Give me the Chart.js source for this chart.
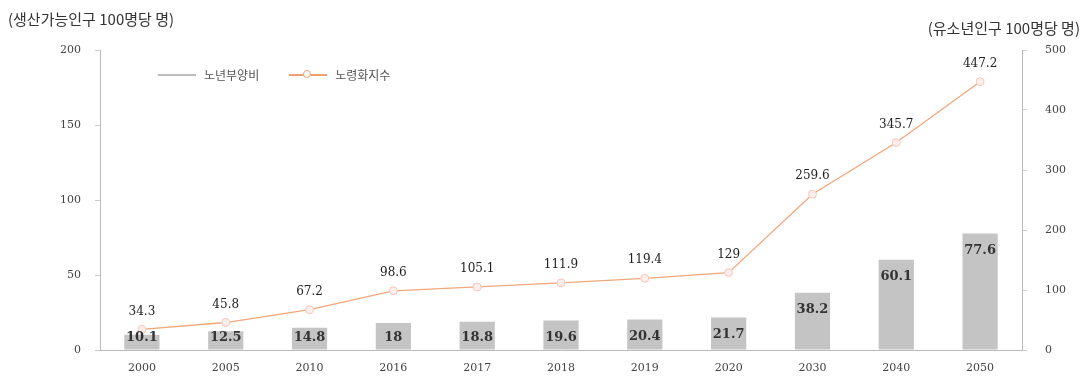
<!DOCTYPE html>
<html>
<head>
<meta charset="utf-8">
<script src="https://cdn.jsdelivr.net/npm/chart.js@4"></script>
<style>
  html, body { margin: 0; padding: 0; background: #fff; }
  #wrap { position: relative; width: 1088px; height: 378px; }
  .ttl { position: absolute; font-family: "Noto Sans CJK KR", sans-serif; font-size: 15px; color: #333; white-space: nowrap; }
  #legend { position: absolute; left: 158px; top: 66px; font-family: "Noto Sans CJK KR", sans-serif; font-size: 12px; color: #555; display: flex; align-items: center; }
  .lg { display: flex; align-items: center; margin-right: 30px; }
  .sw { position: relative; width: 38px; height: 14px; margin-right: 8px; }
  .sw .ln { position: absolute; left: 0; right: 0; top: 6px; height: 2px; }
  .sw .dot { position: absolute; left: 14px; top: 2px; width: 8px; height: 8px; border-radius: 50%; background: #fff; border: 1.5px solid #f0a070; box-sizing: border-box; }
</style>
</head>
<body>
<div id="wrap">
  <canvas id="chart" width="1088" height="378"></canvas>
  <div class="ttl" style="left:8px; top:8px;">(생산가능인구 100명당 명)</div>
  <div class="ttl" style="right:8px; top:17px;">(유소년인구 100명당 명)</div>
  <div id="legend">
    <div class="lg"><div class="sw"><div class="ln" style="background:#bdbdbd"></div></div><span>노년부양비</span></div>
    <div class="lg"><div class="sw"><div class="ln" style="background:#f0a070"></div><div class="dot"></div></div><span>노령화지수</span></div>
  </div>
</div>
<script>
const years = ['2000', '2005', '2010', '2016', '2017', '2018', '2019', '2020', '2030', '2040', '2050'];
const dependencyRatio = [10.1, 12.5, 14.8, 18, 18.8, 19.6, 20.4, 21.7, 38.2, 60.1, 77.6];
const agingIndex = [34.3, 45.8, 67.2, 98.6, 105.1, 111.9, 119.4, 129, 259.6, 345.7, 447.2];
const leftTicks = [0, 50, 100, 150, 200];
const rightTicks = [0, 100, 200, 300, 400, 500];

const tickFont = { family: 'DejaVu Serif', size: 11 };

// value labels over bars and line points
const valueLabels = {
  id: 'valueLabels',
  afterDatasetsDraw(chart) {
    const ctx = chart.ctx;
    const base = chart.scales.y.getPixelForValue(0);
    ctx.save();
    ctx.textAlign = 'center';
    ctx.textBaseline = 'middle';
    chart.getDatasetMeta(0).data.forEach((bar, i) => {
      ctx.font = 'bold 13px "DejaVu Serif"';
      ctx.fillStyle = '#333';
      const y = Math.min(bar.y + 17, base - 12);
      ctx.fillText(String(dependencyRatio[i]), bar.x, y);
    });
    chart.getDatasetMeta(1).data.forEach((pt, i) => {
      ctx.font = '12px "DejaVu Serif"';
      ctx.fillStyle = '#222';
      ctx.fillText(String(agingIndex[i]), pt.x, pt.y - 18);
    });
    ctx.restore();
  }
};

new Chart(document.getElementById('chart'), {
  data: {
    labels: years,
    datasets: [
      {
        type: 'bar', label: '노년부양비', data: dependencyRatio, yAxisID: 'y',
        backgroundColor: '#c4c4c4', barPercentage: 0.42, categoryPercentage: 1, order: 2
      },
      {
        type: 'line', label: '노령화지수', data: agingIndex, yAxisID: 'y1',
        borderColor: '#f2a77a', borderWidth: 1.3, pointRadius: 4,
        pointBackgroundColor: '#fdeeee', pointBorderColor: '#f6c6b8', pointBorderWidth: 1,
        tension: 0, order: 1
      }
    ]
  },
  options: {
    responsive: false, animation: false,
    layout: { padding: { left: 0, right: 0, top: 50, bottom: 0 } },
    plugins: { legend: { display: false }, tooltip: { enabled: false } },
    scales: {
      x: {
        grid: { display: false, drawTicks: false },
        border: { color: '#bbb', dash: [2, 2] },
        ticks: { color: '#444', font: tickFont, padding: 12, maxRotation: 0 },
        afterFit(s) { s.height = 28; }
      },
      y: {
        position: 'left', min: 0, max: 200,
        afterBuildTicks(s) { s.ticks = leftTicks.map(v => ({ value: v })); },
        grid: { drawOnChartArea: false, tickLength: 5, color: '#ccc' },
        border: { color: '#bbb', dash: [2, 2] },
        ticks: { color: '#444', font: tickFont, padding: 14 },
        afterFit(s) { s.width = 100; }
      },
      y1: {
        position: 'right', min: 0, max: 500,
        afterBuildTicks(s) { s.ticks = rightTicks.map(v => ({ value: v })); },
        grid: { drawOnChartArea: false, tickLength: 5, color: '#ccc' },
        border: { color: '#bbb', dash: [2, 2] },
        ticks: { color: '#444', font: tickFont, padding: 18 },
        afterFit(s) { s.width = 66; }
      }
    }
  },
  plugins: [valueLabels]
});
</script>
</body>
</html>
